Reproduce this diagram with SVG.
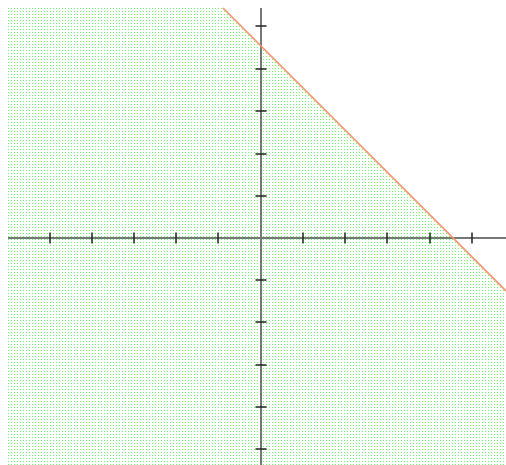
<svg xmlns="http://www.w3.org/2000/svg" width="506" height="465" viewBox="0 0 506 465">
<style>
.axis{stroke:#777;stroke-width:2;fill:none}
.tick{stroke:#222;stroke-width:1.5;fill:none}
.bound{stroke:#f4906c;stroke-width:1.6;fill:none}
</style>
<defs>
<pattern id="dots" x="8" y="8" width="3" height="3" patternUnits="userSpaceOnUse">
<rect x="0" y="0" width="1" height="1" fill="#6f6"/>
</pattern>
</defs>
<rect width="506" height="465" fill="#fff"/>
<g id="region">
<polygon points="8,8 223,8 506,291 506,465 8,465" fill="url(#dots)"/>
</g>
<g id="axes">
<line class="axis" x1="8" y1="238" x2="506" y2="238"/>
<line class="axis" x1="261" y1="8" x2="261" y2="465"/>
<path class="tick" d="M50,232.5V243.5M92,232.5V243.5M134,232.5V243.5M176,232.5V243.5M218,232.5V243.5M303,232.5V243.5M345,232.5V243.5M387,232.5V243.5M430,232.5V243.5M472,232.5V243.5"/>
<path class="tick" d="M255.5,26H266.5M255.5,69H266.5M255.5,111H266.5M255.5,154H266.5M255.5,196H266.5M255.5,280H266.5M255.5,322H266.5M255.5,365H266.5M255.5,407H266.5M255.5,449H266.5"/>
</g>
<g id="connectors">
<line class="bound" x1="223" y1="8" x2="506" y2="291"/>
</g>
</svg>
